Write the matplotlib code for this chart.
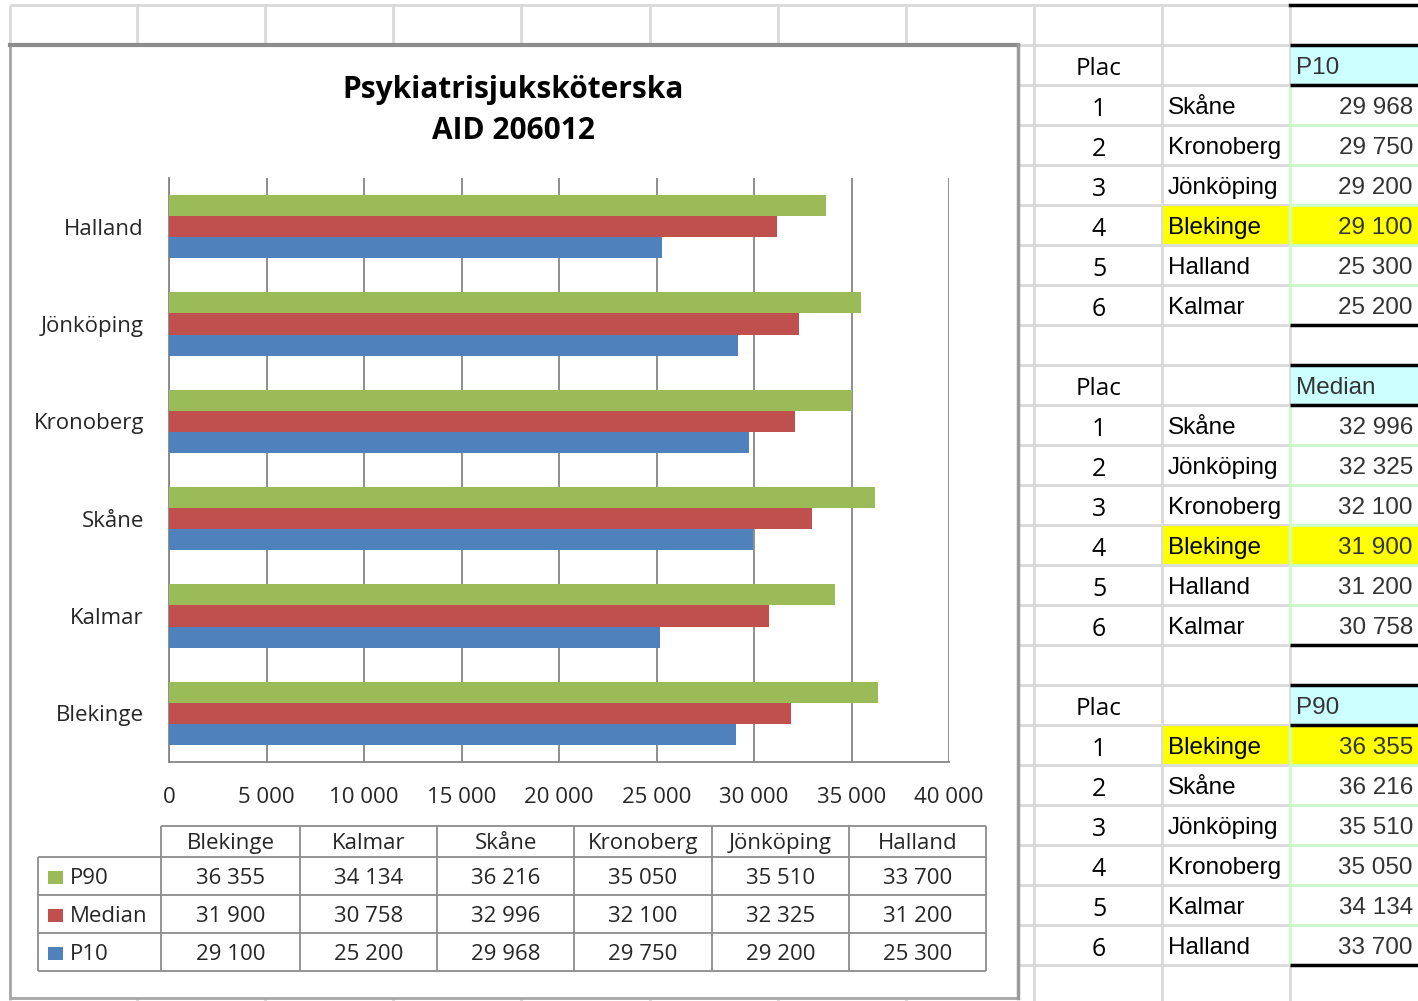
import numpy as np
import matplotlib
matplotlib.use('Agg')
import matplotlib.pyplot as plt
from matplotlib.patches import Rectangle

# data
regions = ['Blekinge', 'Kalmar', 'Skåne', 'Kronoberg', 'Jönköping', 'Halland']
p90 = [36355, 34134, 36216, 35050, 35510, 33700]
median = [31900, 30758, 32996, 32100, 32325, 31200]
p10 = [29100, 25200, 29968, 29750, 29200, 25300]
series_names = ['P90', 'Median', 'P10']
series_colors = ['#9BBB59', '#C0504D', '#4F81BD']
highlight = 'Blekinge'
title_lines = ['Psykiatrisjuksköterska', 'AID 206012']


def fmt(v):
    return f'{v:,}'.replace(',', ' ')


W, H = 1418, 1001
fig = plt.figure(figsize=(W / 100, H / 100), dpi=100)
bg = fig.add_axes([0, 0, 1, 1])
bg.set_xlim(0, W)
bg.set_ylim(H, 0)
bg.axis('off')

# spreadsheet grid behind everything
col_x = [10, 137, 265, 393, 521, 650, 778, 906, 1034, 1162, 1290]
row_y = list(range(5, H, 40))
bg.vlines(col_x, 5, H, color='#D9D9D9', lw=2, zorder=1)
bg.hlines(row_y, 10, W, color='#D9D9D9', lw=2, zorder=1)

# chart frame
bg.add_patch(Rectangle((10, 45), 1008, 953, facecolor='white',
                       edgecolor='#A6A6A6', lw=2, zorder=2))
bg.plot([10, 1018], [45, 45], color='#8C8C8C', lw=3, zorder=3)
bg.plot([1018, 1018], [45, 998], color='#9A9A9A', lw=2.5, zorder=3)

cfont = 'Open Sans'
tcol = '#262626'
for i, line in enumerate(title_lines):
    bg.text(513, 90 + 41 * i, line, ha='center', va='center', fontsize=21.5,
            fontweight='bold', family=cfont, color='black', zorder=4)

# ranking tables on the right
cyan = '#CCFFFF'
yellow = '#FFFF00'
lgreen = '#CCFFCC'
afont = 'Liberation Sans'
bg.plot([1290, W], [5, 5], color='black', lw=2.5, zorder=5)
for b, (name, vals) in enumerate(zip(['P10', 'Median', 'P90'], [p10, median, p90])):
    top = 45 + 320 * b
    bg.add_patch(Rectangle((1291, top), W - 1291, 40, facecolor=cyan,
                           edgecolor='none', zorder=3))
    bg.text(1099, top + 24, 'Plac', ha='center', va='center', fontsize=17.5,
            family=cfont, color='black', zorder=6)
    bg.text(1296, top + 23, name, ha='left', va='center', fontsize=17.5,
            family=afont, color='#333333', zorder=6)
    order = np.argsort(vals)[::-1]
    for k, idx in enumerate(order):
        rt = top + 40 * (k + 1)
        yc = rt + 23
        if regions[idx] == highlight:
            bg.add_patch(Rectangle((1163, rt + 1), 126, 38, facecolor=yellow,
                                   edgecolor='none', zorder=3))
            bg.add_patch(Rectangle((1291, rt + 1), W - 1291, 38, facecolor=yellow,
                                   edgecolor='none', zorder=3))
        bg.text(1099, yc + 1, str(k + 1), ha='center', va='center', fontsize=18,
                family=cfont, color='black', zorder=6)
        bg.text(1168, yc, regions[idx], ha='left', va='center', fontsize=17.5,
                family=afont, color='black', zorder=6)
        bg.text(1413, yc, fmt(vals[idx]), ha='right', va='center', fontsize=17.5,
                family=afont, color='#333333', zorder=6)
    bg.hlines([top + 40 * k for k in range(2, 7)], 1291, W, color=lgreen,
              lw=2, zorder=4)
    bg.vlines([1290], top + 40, top + 280, color=lgreen, lw=2, zorder=4)
    bg.hlines([top, top + 40, top + 280], 1290, W, color='black', lw=2.5, zorder=5)

# bar chart
ax = fig.add_axes([169 / W, 1 - 762 / H, 780 / W, 584 / H])
y = np.arange(len(regions))
h = 0.216
for off, vals, col in zip([h, 0, -h], [p90, median, p10], series_colors):
    ax.barh(y + off, vals, h, color=col, zorder=3)
ax.set_ylim(-0.5, len(regions) - 0.5)
ax.set_xlim(0, 40000)
ticks = list(range(0, 40001, 5000))
ax.set_xticks(ticks)
ax.set_xticklabels([fmt(t) for t in ticks], family=cfont, fontsize=16, color=tcol)
ax.set_yticks(y)
ax.set_yticklabels(regions, family=cfont, fontsize=16, color=tcol)
ax.tick_params(axis='x', length=0, pad=18)
ax.tick_params(axis='y', length=0, pad=18)
ax.grid(axis='x', color='#868686', lw=1.3, zorder=1)
ax.set_axisbelow(True)
for s in ['top', 'right']:
    ax.spines[s].set_visible(False)
for s in ['left', 'bottom']:
    ax.spines[s].set_color('#868686')
    ax.spines[s].set_linewidth(1.3)
ax.set_facecolor('none')

# data table under the chart
tx = [161, 300, 437, 574, 712, 849, 986]
ty = [826, 857, 895, 933, 971]
lc = '#8C8C8C'
bg.hlines([ty[0]], tx[0], tx[-1], color=lc, lw=1.3, zorder=4)
bg.hlines(ty[1:], 38, tx[-1], color=lc, lw=1.3, zorder=4)
bg.vlines(tx, ty[0], ty[-1], color=lc, lw=1.3, zorder=4)
bg.vlines([38], ty[1], ty[-1], color=lc, lw=1.3, zorder=4)
for j, reg in enumerate(regions):
    cx = (tx[j] + tx[j + 1]) / 2
    bg.text(cx, (ty[0] + ty[1]) / 2 + 2, reg, ha='center', va='center',
            fontsize=16, family=cfont, color=tcol, zorder=6)
for i, (name, vals, col) in enumerate(zip(series_names, [p90, median, p10], series_colors)):
    yc = (ty[i + 1] + ty[i + 2]) / 2 + 2
    bg.add_patch(Rectangle((48, yc - 7), 15, 13, facecolor=col,
                           edgecolor='none', zorder=5))
    bg.text(70, yc, name, ha='left', va='center', fontsize=16,
            family=cfont, color=tcol, zorder=6)
    for j, v in enumerate(vals):
        cx = (tx[j] + tx[j + 1]) / 2
        bg.text(cx, yc, fmt(v), ha='center', va='center', fontsize=16,
                family=cfont, color=tcol, zorder=6)

fig.savefig('out.png', dpi=100)
